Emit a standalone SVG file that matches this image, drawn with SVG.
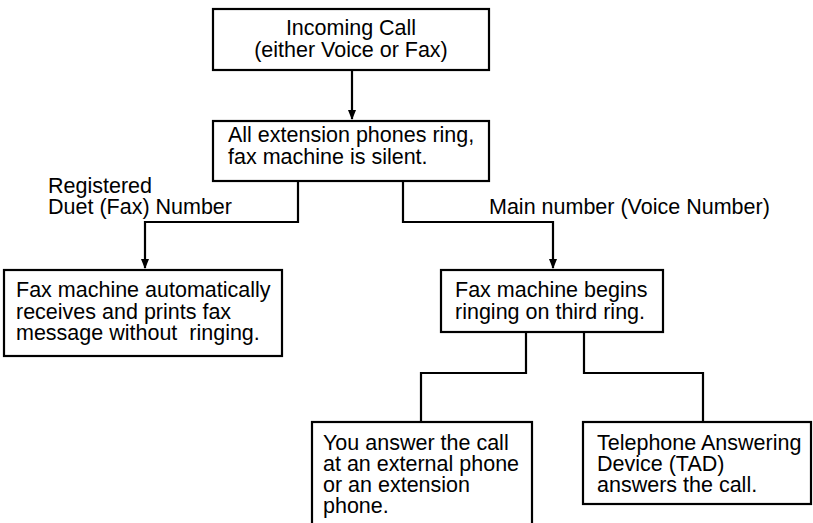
<svg xmlns="http://www.w3.org/2000/svg" width="813" height="523" viewBox="0 0 813 523">
<defs>
<style>
.box{fill:#fff;stroke:#000;stroke-width:2.2}
.ln{fill:none;stroke:#000;stroke-width:2.2}
text{font-family:"Liberation Sans",Arial,sans-serif;font-size:21.5px;fill:#000;white-space:pre}
.c{text-anchor:middle}
</style>
<marker id="ah" markerWidth="10" markerHeight="14" refX="9" refY="5" orient="auto" markerUnits="userSpaceOnUse" viewBox="0 0 10 10">
<path d="M0,1 L10,5 L0,9 Z" fill="#000"/>
</marker>
</defs>
<g id="connectors">
<line class="ln" x1="352" y1="70" x2="352" y2="119" marker-end="url(#ah)"/>
<polyline class="ln" points="298,181 298,222 145,222 145,268" marker-end="url(#ah)"/>
<polyline class="ln" points="403,181 403,222 553,222 553,268" marker-end="url(#ah)"/>
<polyline class="ln" points="526,332 526,373 421,373 421,422"/>
<polyline class="ln" points="584,332 584,373 703,373 703,422"/>
</g>
<g id="labels">
<text x="48" y="193">Registered</text>
<text x="48" y="214">Duet (Fax) Number</text>
<text x="489" y="214">Main number (Voice Number)</text>
</g>
<g id="incoming">
<rect class="box" x="213" y="9" width="276" height="61"/>
<text class="c" x="351" y="35">Incoming Call</text>
<text class="c" x="351" y="57">(either Voice or Fax)</text>
</g>
<g id="allring">
<rect class="box" x="213" y="121" width="276" height="60"/>
<text x="228" y="142">All extension phones ring,</text>
<text x="228" y="164">fax machine is silent.</text>
</g>
<g id="faxauto">
<rect class="box" x="4" y="270" width="278" height="86"/>
<text x="16" y="297">Fax machine automatically</text>
<text x="16" y="319">receives and prints fax</text>
<text x="16" y="340" xml:space="preserve">message without  ringing.</text>
</g>
<g id="faxrings">
<rect class="box" x="441" y="270" width="222" height="62"/>
<text x="455" y="297">Fax machine begins</text>
<text x="455" y="319">ringing on third ring.</text>
</g>
<g id="youanswer">
<rect class="box" x="312" y="422" width="220" height="110"/>
<text x="323" y="450">You answer the call</text>
<text x="323" y="471">at an external phone</text>
<text x="323" y="492">or an extension</text>
<text x="323" y="513">phone.</text>
</g>
<g id="tad">
<rect class="box" x="583" y="422" width="228" height="82"/>
<text x="597" y="450">Telephone Answering</text>
<text x="597" y="471">Device (TAD)</text>
<text x="597" y="492">answers the call.</text>
</g>
</svg>
